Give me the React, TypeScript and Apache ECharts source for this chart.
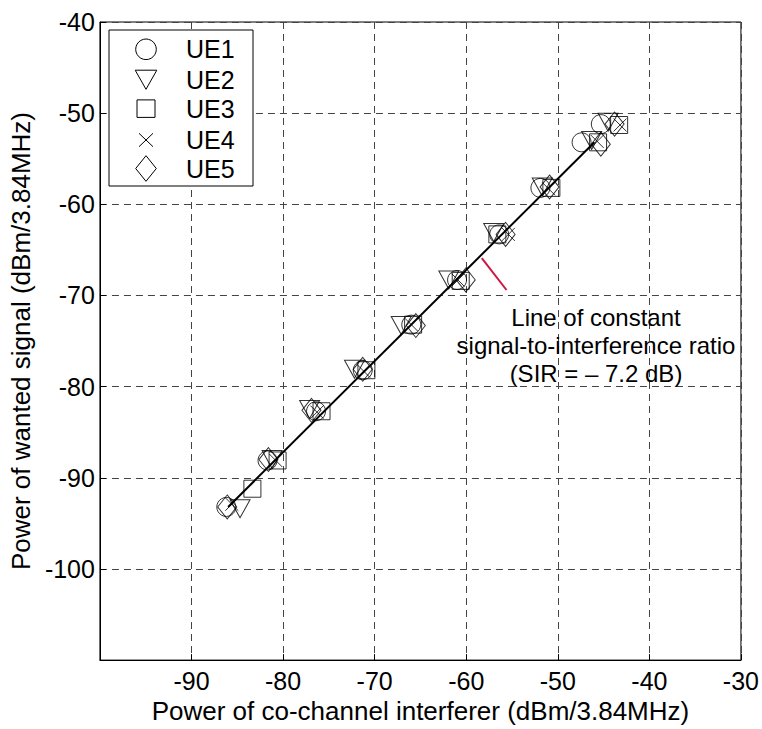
import React, { useEffect, useRef } from "react";
import * as echarts from "echarts";

// Measured operating points per user equipment (dBm / 3.84 MHz)
const ueNames = ["UE1", "UE2", "UE3", "UE4", "UE5"];

const ue1Interferer = [-86.2, -81.7, -76.4, -71.3, -66.0, -61.0, -56.4, -51.9, -47.4, -45.3];
const ue1Wanted = [-93.2, -88.1, -82.7, -78.2, -73.2, -68.3, -63.3, -58.2, -53.2, -51.2];

const ue2Interferer = [-84.7, -81.2, -77.1, -72.2, -67.1, -61.9, -57.0, -51.7, -46.3, -44.5];
const ue2Wanted = [-93.4, -88.0, -82.5, -78.1, -73.3, -68.3, -63.1, -58.1, -53.0, -51.0];

const ue3Interferer = [-83.35, -80.6, -75.8, -70.9, -65.8, -60.6, -56.6, -50.7, -45.6, -43.3];
const ue3Wanted = [-91.2, -88.1, -82.7, -78.2, -73.2, -68.4, -63.3, -58.2, -53.2, -51.3];

const ue4Interferer = [-85.6, -80.8, -76.3, -71.2, -66.0, -60.9, -55.4, -51.0, -45.7, -43.2];
const ue4Wanted = [-92.9, -88.1, -82.8, -78.3, -73.2, -68.3, -63.3, -58.3, -53.1, -51.3];

const ue5Interferer = [-86.1, -81.6, -76.9, -71.3, -65.5, -60.05, -55.7, -50.9, -45.3, -43.8];
const ue5Wanted = [-93.2, -88.0, -82.6, -78.1, -73.3, -68.3, -63.3, -58.1, -53.4, -51.2];

// Constant signal-to-interference ratio reference line
const sirDb = -7.2;
const sirLineInterferer = [-86, -46];

// Leader from the annotation to the SIR line
const pointerInterferer = [-58.3, -55.6];
const pointerWanted = [-65.9, -69.4];

const annotationLines = [
  "Line of constant",
  "signal-to-interference ratio",
  `(SIR = \u2013 ${Math.abs(sirDb)} dB)`,
];

const FONT = "'Liberation Sans', Arial, Helvetica, sans-serif";

const zip = (xs: number[], ys: number[]) => xs.map((x, i) => [x, ys[i]]);

const hollow = {
  color: "rgba(0,0,0,0)",
  borderColor: "#000",
  borderWidth: 1,
};

export default function App() {
  const ref = useRef<HTMLDivElement>(null);

  useEffect(() => {
    if (!ref.current) return;
    const chart = echarts.init(ref.current, null, { renderer: "svg" });

    const markerSeries = [
      { data: zip(ue1Interferer, ue1Wanted), symbol: "circle", symbolSize: 19 },
      { data: zip(ue2Interferer, ue2Wanted), symbol: "triangle", symbolSize: [20, 18], symbolRotate: 180 },
      { data: zip(ue3Interferer, ue3Wanted), symbol: "rect", symbolSize: 17 },
      { data: zip(ue4Interferer, ue4Wanted), symbol: "path://M0,0L10,10M10,0L0,10", symbolSize: 13 },
      { data: zip(ue5Interferer, ue5Wanted), symbol: "diamond", symbolSize: [19, 24] },
    ].map((s, i) => ({
      type: "scatter",
      name: ueNames[i],
      ...s,
      itemStyle: hollow,
      silent: true,
      z: 3,
    }));

    // Legend drawn as a boxed key
    const lx = 146;
    const rowY = [49.3, 79.5, 108.7, 140, 168.5];
    const legendMarkers: any[] = [
      { type: "circle", shape: { cx: lx, cy: rowY[0], r: 10.3 } },
      {
        type: "polygon",
        shape: {
          points: [
            [lx - 10.8, rowY[1] - 9.3],
            [lx + 10.8, rowY[1] - 9.3],
            [lx, rowY[1] + 9.8],
          ],
        },
      },
      { type: "rect", shape: { x: lx - 9, y: rowY[2] - 8.8, width: 18, height: 17.5 } },
      { type: "line", shape: { x1: lx - 7, y1: rowY[3] - 6.7, x2: lx + 7, y2: rowY[3] + 6.7 } },
      { type: "line", shape: { x1: lx + 7, y1: rowY[3] - 6.7, x2: lx - 7, y2: rowY[3] + 6.7 } },
      {
        type: "polygon",
        shape: {
          points: [
            [lx, rowY[4] - 12.8],
            [lx + 10.3, rowY[4]],
            [lx, rowY[4] + 12.8],
            [lx - 10.3, rowY[4]],
          ],
        },
      },
    ].map((m) => ({
      ...m,
      style: { fill: "none", stroke: "#000", lineWidth: 1 },
      z: 100,
      silent: true,
    }));

    const legendTexts = ueNames.map((name, i) => ({
      type: "text",
      x: 186,
      y: rowY[i],
      style: {
        text: name,
        font: `25px ${FONT}`,
        fill: "#000",
        textAlign: "left",
        textVerticalAlign: "middle",
      },
      z: 100,
      silent: true,
    }));

    const annotationTexts = annotationLines.map((t, i) => ({
      type: "text",
      x: 596,
      y: 317 + i * 28.3,
      style: {
        text: t,
        font: `24px ${FONT}`,
        fill: "#000",
        textAlign: "center",
        textVerticalAlign: "middle",
      },
      z: 100,
      silent: true,
    }));

    chart.setOption({
      animation: false,
      backgroundColor: "#fff",
      textStyle: { fontFamily: FONT },
      grid: {
        left: 98,
        right: 18,
        top: 22,
        bottom: 62,
        show: true,
        borderColor: "#000",
        borderWidth: 1,
        backgroundColor: "transparent",
      },
      xAxis: {
        type: "value",
        min: -100,
        max: -30,
        interval: 10,
        name: "Power of co-channel interferer (dBm/3.84MHz)",
        nameLocation: "middle",
        nameGap: 33,
        nameTextStyle: { fontSize: 26, color: "#000", fontFamily: FONT },
        axisLine: { show: true, lineStyle: { color: "#000", width: 1 } },
        axisTick: { show: true, inside: true, length: 6, lineStyle: { color: "#000" } },
        axisLabel: {
          showMinLabel: false,
          fontSize: 25,
          color: "#000",
          margin: 8,
          fontFamily: FONT,
        },
        splitLine: { show: true, lineStyle: { color: "#444", width: 1, type: [7, 5] } },
      },
      yAxis: {
        type: "value",
        min: -110,
        max: -40,
        interval: 10,
        name: "Power of wanted signal (dBm/3.84MHz)",
        nameLocation: "middle",
        nameGap: 52,
        nameTextStyle: { fontSize: 26, color: "#000", fontFamily: FONT },
        axisLine: { show: true, lineStyle: { color: "#000", width: 1 } },
        axisTick: { show: true, inside: true, length: 6, lineStyle: { color: "#000" } },
        axisLabel: {
          showMinLabel: false,
          fontSize: 25,
          color: "#000",
          margin: 5,
          fontFamily: FONT,
        },
        splitLine: { show: true, lineStyle: { color: "#444", width: 1, type: [7, 5] } },
      },
      series: [
        ...markerSeries,
        {
          type: "line",
          name: "SIR line",
          data: sirLineInterferer.map((x) => [x, x + sirDb]),
          showSymbol: false,
          symbol: "none",
          lineStyle: { color: "#000", width: 2 },
          silent: true,
          z: 4,
        },
        {
          type: "line",
          name: "pointer",
          data: zip(pointerInterferer, pointerWanted),
          showSymbol: false,
          symbol: "none",
          lineStyle: { color: "#cc1744", width: 2 },
          silent: true,
          z: 4,
        },
      ],
      graphic: [
        {
          type: "rect",
          shape: { x: 109, y: 30, width: 144, height: 156 },
          style: { fill: "#fff", stroke: "#000", lineWidth: 1 },
          z: 99,
          silent: true,
        },
        ...legendMarkers,
        ...legendTexts,
        ...annotationTexts,
      ],
    });

    return () => chart.dispose();
  }, []);

  return (
    <div
      ref={ref}
      style={{ position: "absolute", left: 0, top: 0, width: 762, height: 729, background: "#fff" }}
    />
  );
}
